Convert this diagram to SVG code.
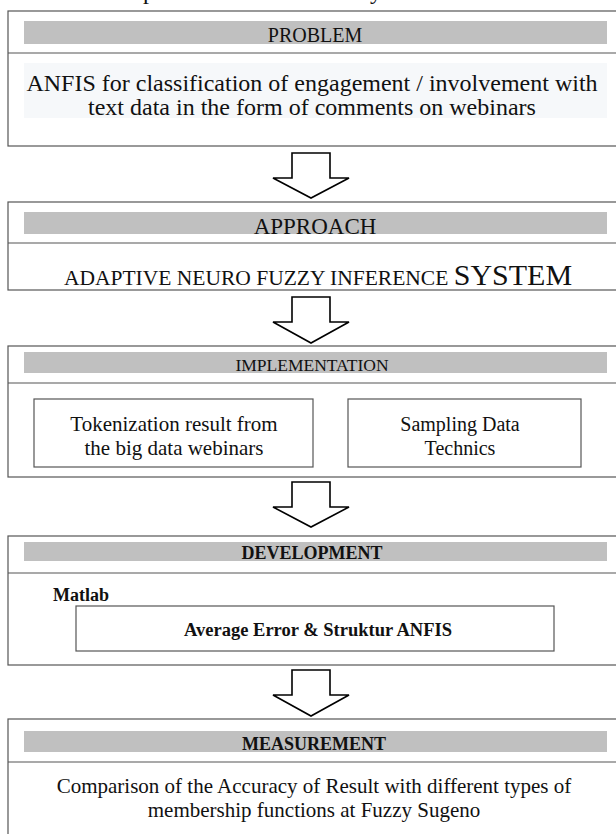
<svg xmlns="http://www.w3.org/2000/svg" width="616" height="834" viewBox="0 0 616 834">
<style>
.box{fill:#fff;stroke:#555;stroke-width:1.2}
.hd{fill:#c0c0c0}
.div{stroke:#555;stroke-width:1.2}
.in{fill:#fff;stroke:#555;stroke-width:1.2}
.t{font-family:"Liberation Serif","Times New Roman",Times,serif;fill:#111;text-anchor:middle}
.s{text-anchor:start}
.b{font-weight:bold}
.arrow{fill:#fff;stroke:#000;stroke-width:1.6;stroke-linejoin:miter}
</style>
<rect width="616" height="834" fill="#fff"/>
<text class="t s" x="143" y="-1" font-size="24">p</text>
<text class="t s" x="370" y="-1" font-size="24">y</text>
<g id="problem">
<rect class="box" x="8" y="11" width="612" height="135"/>
<rect class="hd" x="24" y="21" width="583" height="23"/>
<line class="div" x1="8" y1="53" x2="620" y2="53"/>
<rect x="24" y="63" width="583" height="55" fill="#f6f8fa"/>
<text class="t" x="315" y="42" font-size="20">PROBLEM</text>
<text class="t" x="312" y="91" font-size="24">ANFIS for classification of engagement / involvement with</text>
<text class="t" x="312" y="115" font-size="24">text data in the form of comments on webinars</text>
</g>
<g id="approach">
<rect class="box" x="8" y="202" width="612" height="88"/>
<rect class="hd" x="24" y="212" width="583" height="22"/>
<line class="div" x1="8" y1="243" x2="620" y2="243"/>
<text class="t" x="315" y="234" font-size="23">APPROACH</text>
<text class="t" x="318" y="285" font-size="21.5"><tspan font-size="21.5">ADAPTIVE NEURO FUZZY INFERENCE </tspan><tspan font-size="30">SYSTEM</tspan></text>
</g>
<g id="implementation">
<rect class="box" x="8" y="346" width="612" height="131"/>
<rect class="hd" x="24" y="352" width="583" height="21"/>
<line class="div" x1="8" y1="383" x2="620" y2="383"/>
<text class="t" x="312" y="371" font-size="17.5">IMPLEMENTATION</text>
</g>
<g id="tokenization">
<rect class="in" x="34" y="399" width="279" height="68"/>
<text class="t" x="174" y="431" font-size="21">Tokenization result from</text>
<text class="t" x="174" y="455" font-size="21">the big data webinars</text>
</g>
<g id="sampling">
<rect class="in" x="348" y="399" width="233" height="68"/>
<text class="t" x="460" y="431" font-size="20">Sampling Data</text>
<text class="t" x="460" y="455" font-size="20">Technics</text>
</g>
<g id="development">
<rect class="box" x="8" y="536" width="612" height="129"/>
<rect class="hd" x="24" y="542" width="583" height="19"/>
<line class="div" x1="8" y1="573" x2="620" y2="573"/>
<text class="t b" x="312" y="559" font-size="18">DEVELOPMENT</text>
<text class="t b s" x="53" y="601" font-size="18">Matlab</text>
</g>
<g id="average-error">
<rect class="in" x="76" y="606" width="478" height="45"/>
<text class="t b" x="318" y="636" font-size="18.5">Average Error &amp; Struktur ANFIS</text>
</g>
<g id="measurement">
<rect class="box" x="8" y="719" width="612" height="130"/>
<rect class="hd" x="24" y="731" width="583" height="21"/>
<line class="div" x1="8" y1="762" x2="620" y2="762"/>
<text class="t b" x="314" y="750" font-size="18">MEASUREMENT</text>
<text class="t" x="314" y="793" font-size="21">Comparison of the Accuracy of Result with different types of</text>
<text class="t" x="314" y="817" font-size="21">membership functions at Fuzzy Sugeno</text>
</g>
<g id="connectors">
<path class="arrow" d="M292,153 H330 V178 H349 L311,198 L273,178 H292 Z"/>
<path class="arrow" d="M292,297 H330 V322 H349 L311,343 L273,322 H292 Z"/>
<path class="arrow" d="M292,482 H330 V507 H349 L311,527 L273,507 H292 Z"/>
<path class="arrow" d="M292,670 H330 V695 H349 L311,716 L273,695 H292 Z"/>
</g>
</svg>
